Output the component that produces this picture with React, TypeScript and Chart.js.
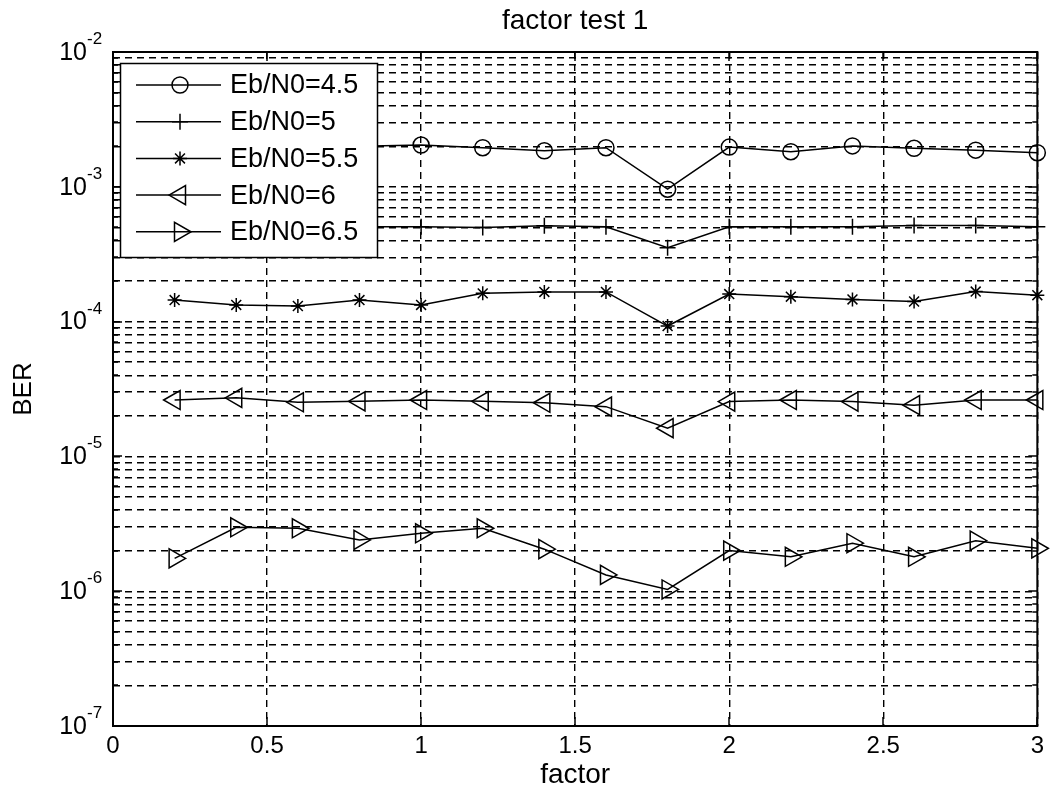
import React, { useEffect, useRef } from 'react';
import { Chart, registerables } from 'chart.js';

Chart.register(...registerables);

// ---------------- data ----------------
const factor = [0.2, 0.4, 0.6, 0.8, 1.0, 1.2, 1.4, 1.6, 1.8, 2.0, 2.2, 2.4, 2.6, 2.8, 3.0];

const berEb45 = [1.9e-3, 2.0e-3, 1.9e-3, 2.0e-3, 2.04e-3, 1.95e-3, 1.85e-3, 1.95e-3, 9.6e-4, 1.97e-3, 1.82e-3, 2.01e-3, 1.93e-3, 1.87e-3, 1.79e-3];
const berEb5 = [5.0e-4, 5.1e-4, 4.9e-4, 5.06e-4, 5.06e-4, 5.0e-4, 5.15e-4, 5.06e-4, 3.53e-4, 5.06e-4, 5.06e-4, 5.06e-4, 5.17e-4, 5.17e-4, 5.06e-4];
const berEb55 = [1.445e-4, 1.33e-4, 1.305e-4, 1.445e-4, 1.33e-4, 1.62e-4, 1.66e-4, 1.66e-4, 9.27e-5, 1.6e-4, 1.53e-4, 1.46e-4, 1.41e-4, 1.67e-4, 1.57e-4];
const berEb6 = [2.62e-5, 2.72e-5, 2.52e-5, 2.56e-5, 2.62e-5, 2.56e-5, 2.5e-5, 2.34e-5, 1.62e-5, 2.55e-5, 2.62e-5, 2.55e-5, 2.4e-5, 2.62e-5, 2.62e-5];
const berEb65 = [1.75e-6, 2.98e-6, 2.93e-6, 2.4e-6, 2.69e-6, 2.93e-6, 2.05e-6, 1.32e-6, 1.03e-6, 2.0e-6, 1.8e-6, 2.27e-6, 1.8e-6, 2.37e-6, 2.08e-6];

const seriesLabels = ['Eb/N0=4.5', 'Eb/N0=5', 'Eb/N0=5.5', 'Eb/N0=6', 'Eb/N0=6.5'];

const xTickValues = [0, 0.5, 1, 1.5, 2, 2.5, 3];
const xTickLabels = ['0', '0.5', '1', '1.5', '2', '2.5', '3'];
const yDecadeExponents = [-7, -6, -5, -4, -3, -2];
const yMinorMantissas = [1, 2, 3, 4, 5, 6, 7, 8, 9];

const chartTitle = 'factor test 1';
const xAxisTitle = 'factor';
const yAxisTitle = 'BER';

// ---------------- styles ----------------
const FONT = "Arial, 'Liberation Sans', Helvetica, sans-serif";
const GRID_DASH = [7, 5];
const LINE_W = 1.5;

type MarkerSpec = { style: string; radius: number; rotation: number };
const markers: MarkerSpec[] = [
  { style: 'circle', radius: 8, rotation: 0 },
  { style: 'cross', radius: 8, rotation: 0 },
  { style: 'star', radius: 7, rotation: 0 },
  { style: 'triangle', radius: 11, rotation: 270 },
  { style: 'triangle', radius: 11, rotation: 90 },
];

function buildYGrid(): number[] {
  const out: number[] = [];
  for (let i = 0; i < yDecadeExponents.length; i++) {
    const e = yDecadeExponents[i];
    if (i === yDecadeExponents.length - 1) {
      out.push(Math.pow(10, e));
    } else {
      for (const m of yMinorMantissas) out.push(parseFloat((m * Math.pow(10, e)).toPrecision(6)));
    }
  }
  return out;
}
const yGridValues = buildYGrid();

function drawMarker(ctx: CanvasRenderingContext2D, m: MarkerSpec, x: number, y: number) {
  const r = m.radius;
  ctx.beginPath();
  if (m.style === 'circle') {
    ctx.arc(x, y, r, 0, Math.PI * 2);
  } else if (m.style === 'cross') {
    ctx.moveTo(x - r, y); ctx.lineTo(x + r, y);
    ctx.moveTo(x, y - r); ctx.lineTo(x, y + r);
  } else if (m.style === 'star') {
    ctx.moveTo(x - r, y); ctx.lineTo(x + r, y);
    ctx.moveTo(x, y - r); ctx.lineTo(x, y + r);
    const d = r * Math.SQRT1_2;
    ctx.moveTo(x - d, y - d); ctx.lineTo(x + d, y + d);
    ctx.moveTo(x - d, y + d); ctx.lineTo(x + d, y - d);
  } else if (m.style === 'triangle') {
    let rad = (m.rotation * Math.PI) / 180;
    ctx.moveTo(x + Math.sin(rad) * r, y - Math.cos(rad) * r);
    rad += (2 * Math.PI) / 3;
    ctx.lineTo(x + Math.sin(rad) * r, y - Math.cos(rad) * r);
    rad += (2 * Math.PI) / 3;
    ctx.lineTo(x + Math.sin(rad) * r, y - Math.cos(rad) * r);
    ctx.closePath();
  }
  ctx.stroke();
}

const matlabAxesPlugin = {
  id: 'matlabAxes',
  afterDraw(chart: any) {
    const { ctx, chartArea: a } = chart;
    const xs = chart.scales.x;
    const ys = chart.scales.y;
    ctx.save();
    ctx.setLineDash([]);
    ctx.strokeStyle = '#000';

    // inward tick marks
    ctx.lineWidth = 1.5;
    ctx.beginPath();
    for (const v of xTickValues) {
      const px = Math.round(xs.getPixelForValue(v));
      ctx.moveTo(px, a.bottom); ctx.lineTo(px, a.bottom - 9);
      ctx.moveTo(px, a.top); ctx.lineTo(px, a.top + 9);
    }
    for (const v of yGridValues) {
      const py = Math.round(ys.getPixelForValue(v));
      const isDecade = Math.abs(Math.log10(v) - Math.round(Math.log10(v))) < 1e-6;
      const len = isDecade ? 9 : 5;
      ctx.moveTo(a.left, py); ctx.lineTo(a.left + len, py);
      ctx.moveTo(a.right, py); ctx.lineTo(a.right - len, py);
    }
    ctx.stroke();

    // box
    ctx.lineWidth = 2;
    ctx.strokeRect(a.left, a.top, a.right - a.left, a.bottom - a.top);

    // y tick labels 10^e
    ctx.fillStyle = '#000';
    for (const e of yDecadeExponents) {
      const py = ys.getPixelForValue(Math.pow(10, e));
      ctx.font = `25px ${FONT}`;
      ctx.textAlign = 'right';
      ctx.textBaseline = 'middle';
      ctx.fillText('10', 87, py + 1);
      ctx.font = `17px ${FONT}`;
      ctx.textAlign = 'left';
      ctx.textBaseline = 'alphabetic';
      ctx.fillText(String(e), 87, py - 8);
    }

    // legend
    const lx = 120, ly = 63, lw = 257, lh = 194;
    ctx.fillStyle = '#fff';
    ctx.fillRect(lx, ly, lw, lh);
    ctx.lineWidth = 1.5;
    ctx.strokeStyle = '#000';
    ctx.strokeRect(lx + 0.5, ly + 0.5, lw, lh);
    chart.data.datasets.forEach((ds: any, i: number) => {
      const ry = 85 + i * 36.7;
      ctx.lineWidth = LINE_W;
      ctx.beginPath();
      ctx.moveTo(136, ry); ctx.lineTo(221, ry);
      ctx.stroke();
      drawMarker(ctx, markers[i], 180, ry);
      ctx.fillStyle = '#000';
      ctx.font = `27px ${FONT}`;
      ctx.textAlign = 'left';
      ctx.textBaseline = 'middle';
      ctx.fillText(ds.label, 230, ry + 1);
    });
    ctx.restore();
  },
};

export default function App() {
  const canvasRef = useRef<HTMLCanvasElement | null>(null);

  useEffect(() => {
    if (!canvasRef.current) return;
    Chart.defaults.font.family = FONT;
    Chart.defaults.color = '#000';
    const seriesValues = [berEb45, berEb5, berEb55, berEb6, berEb65];
    const datasets = seriesValues.map((vals, i) => ({
      label: seriesLabels[i],
      data: factor.map((f, j) => ({ x: f, y: vals[j] })),
      borderColor: '#000',
      borderWidth: LINE_W,
      pointStyle: markers[i].style,
      pointRadius: markers[i].radius,
      pointRotation: markers[i].rotation,
      pointBorderColor: '#000',
      pointBackgroundColor: 'rgba(0,0,0,0)',
      pointBorderWidth: LINE_W,
      fill: false,
      tension: 0,
      clip: false as any,
    }));

    const chart = new Chart(canvasRef.current, {
      type: 'line',
      data: { datasets },
      options: {
        animation: false,
        responsive: false,
        events: [],
        layout: { padding: { top: 0, right: 8, bottom: 0, left: 0 } },
        plugins: {
          legend: { display: false },
          tooltip: { enabled: false },
          title: {
            display: true,
            text: chartTitle,
            fullSize: false,
            color: '#000',
            font: { size: 28, weight: 'normal', family: FONT },
            padding: { top: 4.2, bottom: 14.2 },
          },
        },
        scales: {
          x: {
            type: 'linear',
            min: 0,
            max: 3,
            afterBuildTicks: (scale: any) => {
              scale.ticks = xTickValues.map((v) => ({ value: v }));
            },
            afterFit: (scale: any) => { scale.height = 68; },
            ticks: {
              font: { size: 24, family: FONT },
              color: '#000',
              padding: 6,
              maxRotation: 0,
              autoSkip: false,
              callback: (v: any) => {
                const idx = xTickValues.indexOf(Number(v));
                return idx >= 0 ? xTickLabels[idx] : '';
              },
            },
            grid: { color: '#000', lineWidth: 1.4, drawTicks: false },
            border: { display: false, dash: GRID_DASH },
            title: {
              display: true,
              text: xAxisTitle,
              color: '#000',
              font: { size: 28, family: FONT },
              padding: { top: 0, bottom: 2.2 },
            },
          },
          y: {
            type: 'logarithmic',
            min: 1e-7,
            max: 1e-2,
            afterBuildTicks: (scale: any) => {
              scale.ticks = yGridValues.map((v) => ({ value: v }));
            },
            afterFit: (scale: any) => { scale.width = 113; },
            ticks: { display: false },
            grid: { color: '#000', lineWidth: 1.4, drawTicks: false },
            border: { display: false, dash: GRID_DASH },
            title: {
              display: true,
              text: yAxisTitle,
              color: '#000',
              font: { size: 26, family: FONT },
              padding: { top: 8.4, bottom: 0 },
            },
          },
        },
      },
      plugins: [matlabAxesPlugin],
    } as any);

    return () => chart.destroy();
  }, []);

  return (
    <div style={{ position: 'absolute', left: 0, top: 0, width: 1050, height: 794, background: '#fff' }}>
      <canvas ref={canvasRef} width={1050} height={794} />
    </div>
  );
}
